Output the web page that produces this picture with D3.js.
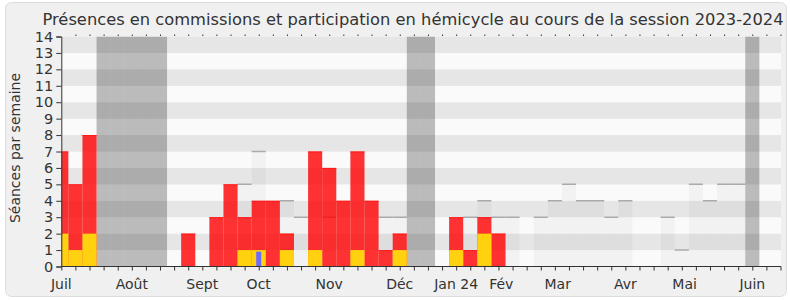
<!DOCTYPE html>
<html>
<head>
<meta charset="utf-8">
<script src="https://cdn.jsdelivr.net/npm/d3@7"></script>
<style>
  body { margin: 0; background: #fff; }
  svg { display: block; }
</style>
</head>
<body>
<div class="center"></div>
<script>
// one value per week, first week = early July 2023
const presence  = [7,5,8,0,0,0,0,0,0,2,0,3,5,3,4,4,2,0,7,6,4,7,4,1,2,0,0,0,3,1,3,2,0,0,0,0,0,0,0,0,0,0,0,0,0,0,0,0,0,0,0];
const hemicycle = [2,1,2,0,0,0,0,0,0,0,0,0,0,1,1,0,1,0,1,0,0,1,0,0,1,0,0,0,1,0,2,0,0,0,0,0,0,0,0,0,0,0,0,0,0,0,0,0,0,0,0];
const questions = [0,0,0,0,0,0,0,0,0,0,0,0,0,0,0.9,0,0,0,0,0,0,0,0,0,0,0,0,0,0,0,0,0,0,0,0,0,0,0,0,0,0,0,0,0,0,0,0,0,0,0,0];
const median    = [0,0,0,0,0,0,0,0,0,0,0,0,0,5,7,0,4,3,0,3,0,0,0,3,3,0,0,0,0,3,4,3,3,0,3,4,5,4,4,3,4,0,0,3,1,5,4,5,5,0,0];
const vacances  = [3,4,5,6,7,25,26,49];
const monthLabels = ["Juil","Août","Sept","Oct","Nov","Déc","Jan 24","Fév","Mar","Avr","Mai","Juin"];
const monthWeeks  = [0,5,10,14,19,24,28,31.2,35.2,40,44.2,49];
const yTicks = d3.range(0, 15);

const W = 790, H = 300;
const font = "DejaVu Sans";

const x = d3.scaleLinear().domain([0, 51]).range([61.3, 780.5]);
const y = d3.scaleLinear().domain([0, 14]).range([266.5, 36.5]);
const bw = x(1) - x(0);
const plotL = x(0), plotR = 781;

const svg = d3.select(".center").append("svg")
    .attr("width", W)
    .attr("height", H);

// rounded background panel
svg.append("rect")
    .attr("x", 5.5).attr("y", 2.5)
    .attr("width", 781).attr("height", 294)
    .attr("rx", 6)
    .attr("fill", "#f0f0f0")
    .attr("stroke", "#dcdcdc");

svg.append("clipPath").attr("id", "plot")
  .append("rect")
    .attr("x", plotL).attr("y", y(14))
    .attr("width", plotR - plotL).attr("height", y(0) - y(14));

const g = svg.append("g").attr("clip-path", "url(#plot)");

// horizontal bands
g.selectAll(".band")
  .data(d3.range(14))
  .enter().append("rect")
    .attr("x", plotL)
    .attr("width", plotR - plotL)
    .attr("y", d => y(d + 1))
    .attr("height", d => y(d) - y(d + 1))
    .attr("fill", d => d % 2 ? "#e6e6e6" : "#fafafa");

// vacation weeks
g.selectAll(".vac")
  .data(vacances)
  .enter().append("rect")
    .attr("x", d => x(d) - bw / 2)
    .attr("width", bw)
    .attr("y", y(14))
    .attr("height", y(0) - y(14))
    .attr("fill", "rgba(0,0,0,0.25)");

const weeks = presence.map((d, i) => i);

// median of all deputies
const med = weeks.filter(i => median[i] > 0);
g.selectAll(".med")
  .data(med)
  .enter().append("rect")
    .attr("x", i => x(i) - bw / 2)
    .attr("width", bw)
    .attr("y", i => y(median[i]))
    .attr("height", i => y(0) - y(median[i]))
    .attr("fill", "rgba(0,0,0,0.03)");
g.selectAll(".medline")
  .data(med)
  .enter().append("line")
    .attr("x1", i => x(i) - bw / 2)
    .attr("x2", i => x(i) + bw / 2)
    .attr("y1", i => y(median[i]))
    .attr("y2", i => y(median[i]))
    .attr("stroke", "#aaaaaa")
    .attr("stroke-width", 1.5);

// presences (red)
const pres = weeks.filter(i => presence[i] > 0);
g.selectAll(".pres")
  .data(pres)
  .enter().append("rect")
    .attr("x", i => x(i) - bw / 2)
    .attr("width", bw)
    .attr("y", i => y(presence[i]))
    .attr("height", i => y(0) - y(presence[i]))
    .attr("fill", "rgba(255,0,0,0.8)");
g.selectAll(".presline")
  .data(pres)
  .enter().append("line")
    .attr("x1", i => x(i) - bw / 2)
    .attr("x2", i => x(i) + bw / 2)
    .attr("y1", i => y(presence[i]) + 0.5)
    .attr("y2", i => y(presence[i]) + 0.5)
    .attr("stroke", "#ff1a1a")
    .attr("stroke-width", 1);

// hemicycle (yellow)
g.selectAll(".hemi")
  .data(weeks.filter(i => hemicycle[i] > 0))
  .enter().append("rect")
    .attr("x", i => x(i) - bw / 2)
    .attr("width", bw)
    .attr("y", i => y(hemicycle[i]))
    .attr("height", i => y(0) - y(hemicycle[i]))
    .attr("fill", "#ffd10f");

// questions (blue, narrow)
g.selectAll(".quest")
  .data(weeks.filter(i => questions[i] > 0))
  .enter().append("rect")
    .attr("x", i => x(i) - 2.5)
    .attr("width", 5)
    .attr("y", i => y(questions[i]))
    .attr("height", i => y(0) - y(questions[i]))
    .attr("fill", "#6b6bff");

// y axis
const yAxis = d3.axisLeft(y).tickValues(yTicks).tickSize(5).tickPadding(3);
const ya = svg.append("g")
    .attr("transform", `translate(${plotL},0)`)
    .call(yAxis);
ya.selectAll("text").attr("font-family", font).attr("font-size", "14.5px").attr("fill", "#333");
ya.selectAll("line, path").attr("stroke", "#333");

// bottom axis
const xAxis = d3.axisBottom(x).tickValues(d3.range(0, 52)).tickSize(4).tickFormat("");
const xa = svg.append("g")
    .attr("transform", `translate(0,${y(0)})`)
    .call(xAxis);
xa.select(".domain").attr("d", `M${plotL},0H${plotR}`).attr("stroke", "#333");
xa.selectAll("line").attr("stroke", "#333");

// top dotted ticks
const ta = svg.append("g")
    .attr("transform", `translate(0,${y(14) - 0.5})`)
    .call(d3.axisTop(x).tickValues(d3.range(1, 52)).tickSize(1.5).tickFormat(""));
ta.select(".domain").remove();
ta.selectAll("line").attr("stroke", "#333");

// month labels
svg.selectAll(".month")
  .data(monthLabels)
  .enter().append("text")
    .attr("x", (d, i) => x(monthWeeks[i]))
    .attr("y", 289)
    .attr("text-anchor", "middle")
    .attr("font-family", font)
    .attr("font-size", "14px")
    .attr("fill", "#333")
    .text(d => d);

// y axis title
svg.append("text")
    .attr("transform", "translate(20,148) rotate(-90)")
    .attr("text-anchor", "middle")
    .attr("font-family", font)
    .attr("font-size", "14px")
    .attr("fill", "#333")
    .text("Séances par semaine");

// title
svg.append("text")
    .attr("x", 413)
    .attr("y", 25)
    .attr("text-anchor", "middle")
    .attr("font-family", font)
    .attr("font-size", "16.3px")
    .attr("fill", "#333")
    .text("Présences en commissions et participation en hémicycle au cours de la session 2023-2024");
</script>
</body>
</html>
